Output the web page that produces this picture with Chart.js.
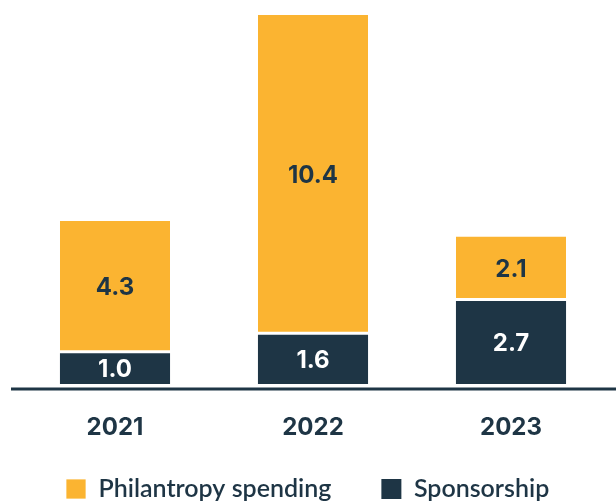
<!DOCTYPE html>
<html>
<head>
<meta charset="utf-8">
<script src="https://cdn.jsdelivr.net/npm/chart.js@4.4.1/dist/chart.umd.min.js"></script>
<style>
  html, body { margin: 0; padding: 0; background: #ffffff; }
  #wrap { width: 616px; height: 504px; }
</style>
</head>
<body>
<div id="wrap"><canvas id="c" width="616" height="504"></canvas></div>
<script>
const years = ['2021', '2022', '2023'];
const sponsorship = [1.0, 1.6, 2.7];
const philanthropy = [4.3, 10.4, 2.1];
const seriesNames = ['Sponsorship', 'Philantropy spending'];

const NAVY = '#1E3545';
const ORANGE = '#FBB431';
const totals = years.map((_, i) => sponsorship[i] + philanthropy[i]);
const yMax = Math.max(...totals);

const valueLabels = {
  id: 'valueLabels',
  afterDatasetsDraw(chart) {
    const ctx = chart.ctx;
    ctx.save();
    ctx.font = '700 24px Inter';
    ctx.textAlign = 'center';
    ctx.textBaseline = 'middle';
    chart.data.datasets.forEach((ds, di) => {
      const meta = chart.getDatasetMeta(di);
      meta.data.forEach((el, i) => {
        const p = el.getCenterPoint();
        ctx.fillStyle = ds.labelColor;
        ctx.fillText(ds.data[i].toFixed(1), p.x, p.y + 1);
      });
    });
    ctx.restore();
  }
};

const baseLine = {
  id: 'baseLine',
  afterDatasetsDraw(chart) {
    const ctx = chart.ctx;
    const y = chart.chartArea.bottom + 5;
    ctx.save();
    ctx.strokeStyle = NAVY;
    ctx.lineWidth = 3;
    ctx.beginPath();
    ctx.moveTo(11, y);
    ctx.lineTo(chart.width, y);
    ctx.stroke();
    ctx.restore();
  }
};

new Chart(document.getElementById('c'), {
  type: 'bar',
  data: {
    labels: years,
    datasets: [
      {
        label: seriesNames[0],
        data: sponsorship,
        backgroundColor: NAVY,
        borderWidth: 0,
        labelColor: '#ffffff',
        barPercentage: 0.556,
        categoryPercentage: 1.0
      },
      {
        label: seriesNames[1],
        data: philanthropy,
        backgroundColor: ORANGE,
        borderColor: '#ffffff',
        borderWidth: { top: 0, left: 0, right: 0, bottom: 3 },
        borderSkipped: false,
        labelColor: NAVY,
        barPercentage: 0.556,
        categoryPercentage: 1.0
      }
    ]
  },
  options: {
    responsive: false,
    devicePixelRatio: 1,
    animation: false,
    layout: { padding: { top: 15, left: 16, right: 6, bottom: -7.5 } },
    scales: {
      x: {
        stacked: true,
        grid: { display: false, drawTicks: false },
        border: { display: false },
        ticks: {
          color: NAVY,
          mirror: true,
          font: { family: 'Inter', size: 24, weight: '700', lineHeight: 0.2 },
          padding: -46
        },
        afterFit(scale) { scale.height = 42.5; }
      },
      y: {
        stacked: true,
        display: false,
        min: 0,
        max: yMax
      }
    },
    plugins: {
      tooltip: { enabled: false },
      legend: {
        position: 'bottom',
        align: 'start',
        reverse: true,
        labels: {
          color: NAVY,
          boxWidth: 20,
          boxHeight: 20,
          padding: 50,
          font: { family: 'Lato', size: 25, weight: '600' }
        }
      }
    }
  },
  plugins: [valueLabels, baseLine]
});
</script>
</body>
</html>
